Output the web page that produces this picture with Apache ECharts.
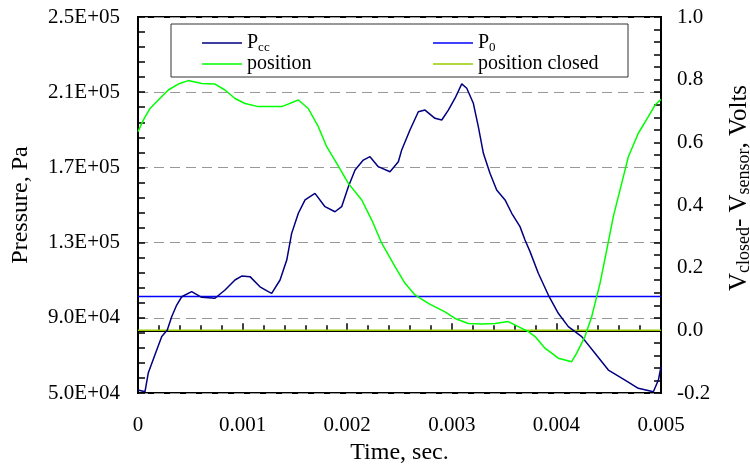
<!DOCTYPE html>
<html>
<head>
<meta charset="utf-8">
<script src="https://cdn.jsdelivr.net/npm/echarts@6/dist/echarts.min.js"></script>
<style>
  html, body { margin: 0; padding: 0; background: #fff; }
  #chart { width: 750px; height: 466px; }
</style>
</head>
<body>
<div id="chart"></div>
<script>
'use strict';
// 数据：时间 (s) 与压力 (Pa)
let pccTime = [0, 0.000067, 0.000098, 0.000179, 0.000227, 0.00028, 0.000322, 0.00037, 0.000418, 0.000513,
    0.000609, 0.000736, 0.000832, 0.000927, 0.000991, 0.001071, 0.001166, 0.001246, 0.001278, 0.001358,
    0.001422, 0.001469, 0.001533, 0.001597, 0.001692, 0.001788, 0.001883, 0.001947, 0.002011, 0.002075,
    0.002154, 0.002218, 0.002297, 0.002409, 0.002489, 0.002521, 0.0026, 0.00268, 0.002744, 0.002839,
    0.002904, 0.002967, 0.003031, 0.003095, 0.003143, 0.003206, 0.003254, 0.003302, 0.003365, 0.003429,
    0.003509, 0.003573, 0.003652, 0.0037, 0.003748, 0.003827, 0.003923, 0.004018, 0.004114, 0.004242,
    0.004369, 0.004497, 0.004656, 0.004783, 0.004927, 0.004975, 0.005];
let pccValue = [51600, 50700, 60600, 72900, 80000, 83500, 90600, 96800, 101200, 103900,
    100900, 100400, 104800, 110100, 112200, 111900, 106500, 103900, 103000, 110100,
    120700, 134900, 145600, 152700, 156200, 149100, 146400, 149100, 159700, 168600,
    173900, 175700, 170400, 167700, 173000, 179300, 189900, 199600, 200500, 196100,
    195200, 200500, 206800, 214400, 212100, 204100, 191600, 177500, 166900, 158000,
    152700, 145600, 138500, 131400, 125200, 113700, 102100, 92400, 85300, 80000,
    71100, 62200, 56900, 52500, 50700, 56900, 64000];

// 阀门位置 (V)
let posTime = [0, 0.000051, 0.000115, 0.000194, 0.00029, 0.000385, 0.000481, 0.000609, 0.000736, 0.000832,
    0.000927, 0.001023, 0.00115, 0.001246, 0.001374, 0.001533, 0.001628, 0.001724, 0.001804, 0.0019,
    0.002011, 0.002139, 0.002235, 0.00233, 0.002457, 0.002553, 0.002648, 0.002776, 0.002935, 0.003031,
    0.003158, 0.003286, 0.003413, 0.00354, 0.003636, 0.003732, 0.003796, 0.003891, 0.004018, 0.004146,
    0.004194, 0.004273, 0.004337, 0.004417, 0.004481, 0.004544, 0.004624, 0.004688, 0.004783, 0.004879,
    0.004943, 0.005];
let posValue = [0.634, 0.671, 0.708, 0.735, 0.767, 0.786, 0.797, 0.788, 0.786, 0.767,
    0.74, 0.724, 0.714, 0.714, 0.714, 0.735, 0.708, 0.65, 0.586, 0.533,
    0.469, 0.416, 0.352, 0.278, 0.203, 0.15, 0.113, 0.086, 0.059, 0.038,
    0.022, 0.02, 0.022, 0.028, 0.012, -0.004, -0.02, -0.057, -0.089, -0.1,
    -0.073, -0.02, 0.043, 0.15, 0.256, 0.363, 0.469, 0.554, 0.629, 0.682,
    0.719, 0.737];

let p0Value = 101325; // 大气压
let closedValue = 0.0; // 关闭位置
let timeRange = [0, 0.005];

function zip(xs, ys) {
    let arr = [];
    for (let i = 0; i < xs.length; i++) {
        arr.push([xs[i], ys[i]]);
    }
    return arr;
}

// 科学计数法 2.5E+05
function sciLabel(v) {
    let s = v.toExponential(1).toUpperCase();
    let parts = s.split('E');
    let exp = parseInt(parts[1], 10);
    let sign = exp < 0 ? '-' : '+';
    exp = Math.abs(exp);
    return parts[0] + 'E' + sign + (exp < 10 ? '0' + exp : exp);
}

let font = 'Liberation Serif';
let myChart = echarts.init(document.getElementById('chart'));

let legendText = {
    fontFamily: font,
    fontSize: 20,
    lineHeight: 20,
    color: '#000',
    rich: {
        b: { fontFamily: font, fontSize: 20, color: '#000' },
        s: { fontFamily: font, fontSize: 13, color: '#000', padding: [9, 0, 0, 0] },
    },
};

let option = {
    backgroundColor: '#fff',
    textStyle: { fontFamily: font, color: '#000' },
    animation: false,
    grid: {
        left: 138,
        right: 89,
        top: 17,
        bottom: 73,
        outerBoundsMode: 'none',
        containLabel: false,
        show: true,
        borderColor: '#000',
        borderWidth: 2,
        backgroundColor: 'transparent',
    },
    graphic: [
        {
            type: 'rect',
            shape: { x: 171, y: 24, width: 457, height: 53 },
            style: { fill: '#fff', stroke: '#333', lineWidth: 1 },
            z: 5,
        },
    ],
    legend: [
        {
            data: ['Pcc', 'position'],
            orient: 'vertical',
            left: 202,
            top: 33,
            padding: 0,
            icon: 'rect',
            itemWidth: 40,
            itemHeight: 1.5,
            itemGap: 0,
            z: 10,
            textStyle: legendText,
            formatter: function(name) {
                if (name === 'Pcc') {
                    return '{b|P}{s|cc}';
                }
                return name;
            },
        },
        {
            data: ['P0', 'position closed'],
            orient: 'vertical',
            left: 433,
            top: 33,
            padding: 0,
            icon: 'rect',
            itemWidth: 40,
            itemHeight: 1.5,
            itemGap: 0,
            z: 10,
            textStyle: legendText,
            formatter: function(name) {
                if (name === 'P0') {
                    return '{b|P}{s|0}';
                }
                return name;
            },
        },
    ],
    xAxis: {
        type: 'value',
        min: timeRange[0],
        max: timeRange[1],
        interval: 0.001,
        name: 'Time, sec.',
        nameLocation: 'middle',
        nameGap: 48,
        nameTextStyle: { fontFamily: font, fontSize: 24, color: '#000' },
        axisLine: { show: true, lineStyle: { color: '#000', width: 2 } },
        axisTick: { inside: true, length: 7, lineStyle: { color: '#000', width: 1.5 } },
        minorTick: { show: true, splitNumber: 5, length: 5, lineStyle: { color: '#000', width: 1.5 } },
        axisLabel: {
            margin: 22,
            fontFamily: font,
            fontSize: 21,
            color: '#000',
            formatter: function(v) {
                return v === 0 ? '0' : v.toFixed(3);
            },
        },
        splitLine: { show: false },
    },
    yAxis: [
        {
            type: 'value',
            position: 'left',
            min: 50000,
            max: 250000,
            interval: 40000,
            name: 'Pressure, Pa',
            nameLocation: 'middle',
            nameRotate: 90,
            nameGap: 105,
            nameTextStyle: { fontFamily: font, fontSize: 24, color: '#000' },
            axisLine: { show: true, lineStyle: { color: '#000', width: 2 } },
            axisTick: { inside: true, length: 7, lineStyle: { color: '#000', width: 1.5 } },
            minorTick: { show: true, splitNumber: 5, length: 7, lineStyle: { color: '#000', width: 1.5 } },
            axisLabel: {
                margin: 18,
                fontFamily: font,
                fontSize: 21,
                color: '#000',
                formatter: sciLabel,
            },
            splitLine: { show: true, lineStyle: { color: '#999', type: [10, 6], width: 1 } },
        },
        {
            type: 'value',
            position: 'right',
            min: -0.2,
            max: 1.0,
            interval: 0.2,
            name: '{b|V}{s|closed}{b|- V}{s|sensor}{b|, Volts}',
            nameLocation: 'middle',
            nameRotate: 90,
            nameGap: 64,
            nameTextStyle: {
                fontFamily: font,
                fontSize: 25,
                color: '#000',
                padding: [0, 0, 0, 34],
                rich: {
                    b: { fontFamily: font, fontSize: 25, color: '#000' },
                    s: { fontFamily: font, fontSize: 18, color: '#000', padding: [10, 0, 0, 0] },
                },
            },
            axisLine: { show: true, lineStyle: { color: '#000', width: 2 } },
            axisTick: { inside: true, length: 7, lineStyle: { color: '#000', width: 1.5 } },
            minorTick: { show: true, splitNumber: 5, length: 7, lineStyle: { color: '#000', width: 1.5 } },
            axisLabel: {
                margin: 16,
                fontFamily: font,
                fontSize: 21,
                color: '#000',
                formatter: function(v) {
                    return v.toFixed(1);
                },
            },
            splitLine: { show: false },
        },
    ],
    series: [
        {
            name: 'Pcc',
            type: 'line',
            yAxisIndex: 0,
            symbol: 'none',
            color: '#000080',
            lineStyle: { width: 1.5, color: '#000080' },
            data: zip(pccTime, pccValue),
            z: 3,
        },
        {
            name: 'P0',
            type: 'line',
            yAxisIndex: 0,
            symbol: 'none',
            color: '#0000ff',
            lineStyle: { width: 1.5, color: '#0000ff' },
            data: [[timeRange[0], p0Value], [timeRange[1], p0Value]],
            z: 2,
        },
        {
            name: 'position',
            type: 'line',
            yAxisIndex: 1,
            symbol: 'none',
            color: '#00ff00',
            lineStyle: { width: 1.5, color: '#00ff00' },
            data: zip(posTime, posValue),
            z: 3,
        },
        {
            name: 'position closed',
            type: 'line',
            yAxisIndex: 1,
            symbol: 'none',
            color: '#99cc00',
            lineStyle: { width: 1.5, color: '#99cc00' },
            data: [[timeRange[0], closedValue], [timeRange[1], closedValue]],
            z: 2,
        },
    ],
};

myChart.setOption(option);
</script>
</body>
</html>
